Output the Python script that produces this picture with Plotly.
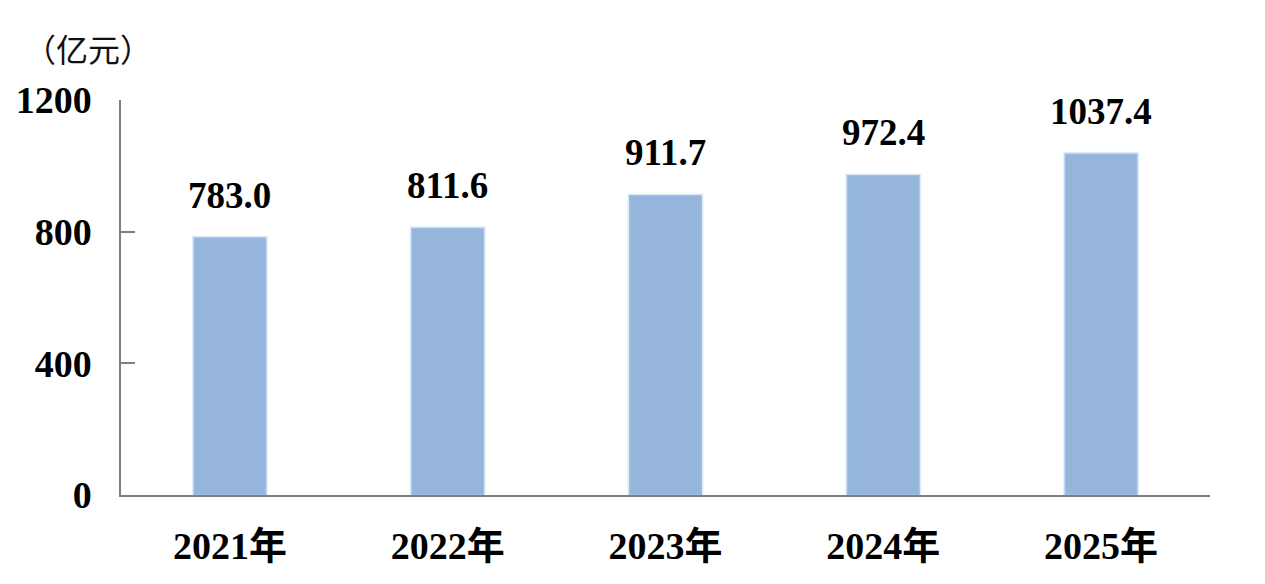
import plotly.graph_objects as go

categories = ["2021年", "2022年", "2023年", "2024年", "2025年"]
values = [783.0, 811.6, 911.7, 972.4, 1037.4]
value_labels = ["783.0", "811.6", "911.7", "972.4", "1037.4"]
y_ticks = [0, 400, 800, 1200]
unit_label = "（亿元）"

BAR_COLOR = "#95B5DB"
FONT = "Liberation Serif, Times New Roman, Noto Sans CJK SC, serif"

fig = go.Figure()
fig.add_trace(go.Bar(
    x=categories,
    y=values,
    width=0.335,
    marker=dict(color=BAR_COLOR, line=dict(color="rgba(170,200,240,0.35)", width=3)),
    hoverinfo="skip",
))

for c, v, t in zip(categories, values, value_labels):
    fig.add_annotation(
        x=c, y=v, text=f"<b>{t}</b>", showarrow=False,
        yanchor="middle", yshift=42,
        font=dict(family=FONT, size=37, color="#000000"),
    )

fig.add_annotation(
    xref="paper", yref="paper", x=-0.091, y=1.132,
    xanchor="left", yanchor="middle", showarrow=False,
    text=unit_label,
    font=dict(family="Noto Sans CJK SC, serif", size=32, color="#111111"),
)

fig.update_layout(
    width=1257, height=576,
    margin=dict(l=113, r=55, t=92, b=89, autoexpand=False),
    plot_bgcolor="white", paper_bgcolor="white",
    showlegend=False,
    bargap=0.665,
)
fig.update_xaxes(
    automargin=False,
    showline=True, linecolor="#808080", linewidth=1.5,
    ticks="", showgrid=False, zeroline=False,
    tickfont=dict(family=FONT, size=38, color="#000000", weight="bold"),
    ticklabelstandoff=17,
)
fig.update_yaxes(
    automargin=False,
    range=[0, 1200], tickvals=y_ticks, ticktext=[f"<b>{v}</b>" for v in y_ticks],
    showline=True, linecolor="#808080", linewidth=1.5,
    ticks="inside", ticklen=14, tickcolor="#808080", tickwidth=1.5,
    showgrid=False, zeroline=False,
    tickfont=dict(family=FONT, size=38, color="#000000"),
    ticklabelstandoff=20,
)

fig.write_html("out.html")
